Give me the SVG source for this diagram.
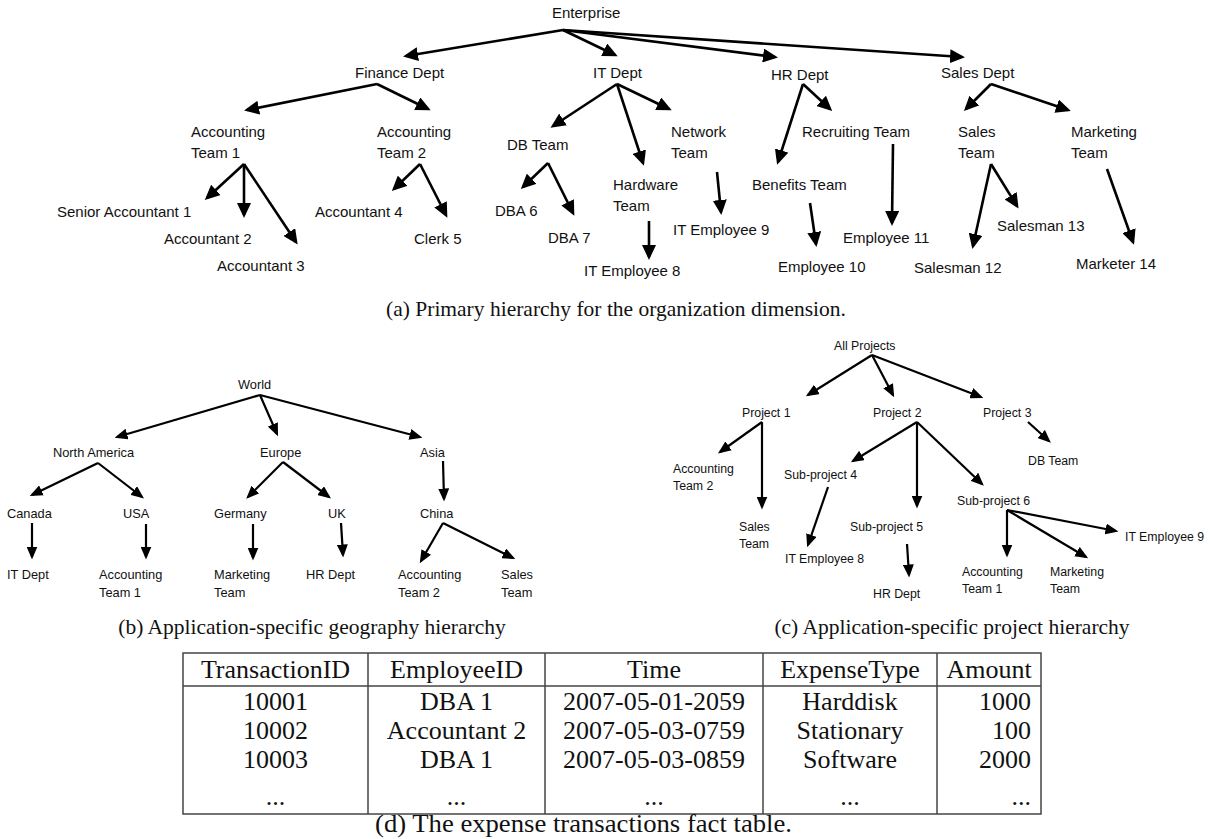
<svg xmlns="http://www.w3.org/2000/svg" width="1210" height="839" viewBox="0 0 1210 839">
<defs>
<style>
.t{font-family:"Liberation Sans",Arial,sans-serif;font-size:15px;fill:#111}
.m{font-family:"Liberation Sans",Arial,sans-serif;font-size:12.8px;fill:#111}
.r{font-family:"Liberation Sans",Arial,sans-serif;font-size:12.3px;fill:#111}
.cap{font-family:"Liberation Serif","Times New Roman",serif;font-size:21.5px;fill:#111;text-anchor:middle}
.tb{font-family:"Liberation Serif","Times New Roman",serif;font-size:26px;fill:#111;text-anchor:middle}
.tbr{font-family:"Liberation Serif","Times New Roman",serif;font-size:26px;fill:#111;text-anchor:end}
.capd{font-family:"Liberation Serif","Times New Roman",serif;font-size:25px;fill:#111}
.a1 line{stroke:#000;stroke-width:2.6;marker-end:url(#h1)}
.a2 line{stroke:#000;stroke-width:2.2;marker-end:url(#h2)}
.grid{stroke:#444;stroke-width:1.5;fill:none}
</style>
<marker id="h1" markerUnits="userSpaceOnUse" markerWidth="15" markerHeight="14" refX="12" refY="7" orient="auto"><path d="M0,0 L15,7 L0,14 z" fill="#000"/></marker>
<marker id="h2" markerUnits="userSpaceOnUse" markerWidth="13" markerHeight="11" refX="10.5" refY="5.5" orient="auto"><path d="M0,0 L13,5.5 L0,11 z" fill="#000"/></marker>
</defs>
<rect width="1210" height="839" fill="#fff"/>

<g id="connectors-a" class="a1">
<line x1="563" y1="30" x2="406" y2="56"/>
<line x1="563" y1="30" x2="615" y2="55"/>
<line x1="563" y1="30" x2="775" y2="57"/>
<line x1="563" y1="30" x2="962" y2="57"/>
<line x1="377" y1="84" x2="247" y2="110"/>
<line x1="377" y1="84" x2="428" y2="109"/>
<line x1="244" y1="164" x2="207" y2="198"/>
<line x1="244" y1="164" x2="244" y2="215"/>
<line x1="244" y1="164" x2="296" y2="242"/>
<line x1="420" y1="164" x2="394" y2="189"/>
<line x1="420" y1="164" x2="446" y2="215"/>
<line x1="617" y1="84" x2="553" y2="126"/>
<line x1="617" y1="84" x2="643" y2="163"/>
<line x1="617" y1="84" x2="669" y2="109"/>
<line x1="548" y1="163" x2="523" y2="187"/>
<line x1="548" y1="163" x2="573" y2="213"/>
<line x1="649" y1="221" x2="649" y2="257"/>
<line x1="717" y1="172" x2="721" y2="212"/>
<line x1="803" y1="84" x2="778" y2="162"/>
<line x1="803" y1="84" x2="830" y2="109"/>
<line x1="810" y1="203" x2="816" y2="244"/>
<line x1="893" y1="144" x2="892" y2="223"/>
<line x1="991" y1="84" x2="966" y2="109"/>
<line x1="991" y1="84" x2="1068" y2="110"/>
<line x1="991" y1="164" x2="973" y2="246"/>
<line x1="991" y1="164" x2="1017" y2="206"/>
<line x1="1107" y1="169" x2="1133" y2="242"/>
</g>

<g id="connectors-b" class="a2">
<line x1="260" y1="395" x2="117" y2="437"/>
<line x1="260" y1="395" x2="277" y2="434"/>
<line x1="260" y1="395" x2="420" y2="437"/>
<line x1="98" y1="463" x2="32" y2="495"/>
<line x1="98" y1="463" x2="142" y2="497"/>
<line x1="283" y1="462" x2="248" y2="497"/>
<line x1="283" y1="462" x2="329" y2="497"/>
<line x1="443" y1="461" x2="444" y2="499"/>
<line x1="32" y1="523" x2="32" y2="557"/>
<line x1="146" y1="524" x2="146" y2="557"/>
<line x1="253" y1="524" x2="253" y2="558"/>
<line x1="341" y1="523" x2="343" y2="555"/>
<line x1="443" y1="523" x2="421" y2="561"/>
<line x1="443" y1="523" x2="513" y2="558"/>
</g>

<g id="connectors-c" class="a2">
<line x1="872" y1="355" x2="808" y2="395"/>
<line x1="872" y1="355" x2="893" y2="395"/>
<line x1="872" y1="355" x2="981" y2="397"/>
<line x1="762" y1="422" x2="720" y2="452"/>
<line x1="762" y1="422" x2="762" y2="507"/>
<line x1="917" y1="422" x2="853" y2="461"/>
<line x1="917" y1="422" x2="917" y2="506"/>
<line x1="917" y1="422" x2="982" y2="484"/>
<line x1="1028" y1="422" x2="1049" y2="441"/>
<line x1="828" y1="487" x2="808" y2="545"/>
<line x1="907" y1="544" x2="909" y2="575"/>
<line x1="1007" y1="510" x2="1007" y2="555"/>
<line x1="1007" y1="510" x2="1086" y2="557"/>
<line x1="1007" y1="510" x2="1116" y2="531"/>
</g>

<!-- (a) organization hierarchy -->
<g id="a-enterprise"><text class="t" x="552" y="18">Enterprise</text></g>
<g id="a-finance"><text class="t" x="355" y="78">Finance Dept</text></g>
<g id="a-it"><text class="t" x="593" y="78">IT Dept</text></g>
<g id="a-hr"><text class="t" x="771" y="80">HR Dept</text></g>
<g id="a-sales"><text class="t" x="941" y="78">Sales Dept</text></g>
<g id="a-acct1"><text class="t" x="191" y="137">Accounting</text><text class="t" x="191" y="158">Team 1</text></g>
<g id="a-acct2"><text class="t" x="377" y="137">Accounting</text><text class="t" x="377" y="158">Team 2</text></g>
<g id="a-db"><text class="t" x="507" y="150">DB Team</text></g>
<g id="a-network"><text class="t" x="671" y="137">Network</text><text class="t" x="671" y="158">Team</text></g>
<g id="a-hardware"><text class="t" x="613" y="190">Hardware</text><text class="t" x="613" y="211">Team</text></g>
<g id="a-recruiting"><text class="t" x="802" y="137">Recruiting Team</text></g>
<g id="a-benefits"><text class="t" x="752" y="190">Benefits Team</text></g>
<g id="a-salesteam"><text class="t" x="958" y="137">Sales</text><text class="t" x="958" y="158">Team</text></g>
<g id="a-marketing"><text class="t" x="1071" y="137">Marketing</text><text class="t" x="1071" y="158">Team</text></g>
<g id="a-sa1"><text class="t" x="57" y="217">Senior Accountant 1</text></g>
<g id="a-acc2"><text class="t" x="164" y="244">Accountant 2</text></g>
<g id="a-acc3"><text class="t" x="217" y="271">Accountant 3</text></g>
<g id="a-acc4"><text class="t" x="315" y="217">Accountant 4</text></g>
<g id="a-clerk5"><text class="t" x="414" y="244">Clerk 5</text></g>
<g id="a-dba6"><text class="t" x="495" y="216">DBA 6</text></g>
<g id="a-dba7"><text class="t" x="548" y="243">DBA 7</text></g>
<g id="a-ite8"><text class="t" x="584" y="276">IT Employee 8</text></g>
<g id="a-ite9"><text class="t" x="673" y="235">IT Employee 9</text></g>
<g id="a-emp10"><text class="t" x="778" y="272">Employee 10</text></g>
<g id="a-emp11"><text class="t" x="843" y="243">Employee 11</text></g>
<g id="a-sm12"><text class="t" x="914" y="273">Salesman 12</text></g>
<g id="a-sm13"><text class="t" x="997" y="231">Salesman 13</text></g>
<g id="a-mk14"><text class="t" x="1076" y="269">Marketer 14</text></g>
<text class="cap" x="616" y="316">(a) Primary hierarchy for the organization dimension.</text>

<!-- (b) geography hierarchy -->
<g id="b-world"><text class="m" x="238" y="389">World</text></g>
<g id="b-na"><text class="m" x="53" y="457">North America</text></g>
<g id="b-europe"><text class="m" x="260" y="457">Europe</text></g>
<g id="b-asia"><text class="m" x="420" y="457">Asia</text></g>
<g id="b-canada"><text class="m" x="7" y="518">Canada</text></g>
<g id="b-usa"><text class="m" x="123" y="518">USA</text></g>
<g id="b-germany"><text class="m" x="214" y="518">Germany</text></g>
<g id="b-uk"><text class="m" x="328" y="518">UK</text></g>
<g id="b-china"><text class="m" x="420" y="518">China</text></g>
<g id="b-itdept"><text class="m" x="7" y="579">IT Dept</text></g>
<g id="b-acct1"><text class="m" x="99" y="579">Accounting</text><text class="m" x="99" y="597">Team 1</text></g>
<g id="b-marketing"><text class="m" x="214" y="579">Marketing</text><text class="m" x="214" y="597">Team</text></g>
<g id="b-hr"><text class="m" x="306" y="579">HR Dept</text></g>
<g id="b-acct2"><text class="m" x="398" y="579">Accounting</text><text class="m" x="398" y="597">Team 2</text></g>
<g id="b-sales"><text class="m" x="501" y="579">Sales</text><text class="m" x="501" y="597">Team</text></g>
<text class="cap" x="312" y="634">(b) Application-specific geography hierarchy</text>

<!-- (c) project hierarchy -->
<g id="c-all"><text class="r" x="834" y="350">All Projects</text></g>
<g id="c-p1"><text class="r" x="742" y="417">Project 1</text></g>
<g id="c-p2"><text class="r" x="873" y="417">Project 2</text></g>
<g id="c-p3"><text class="r" x="983" y="417">Project 3</text></g>
<g id="c-acct2"><text class="r" x="673" y="473">Accounting</text><text class="r" x="673" y="490">Team 2</text></g>
<g id="c-sales"><text class="r" x="739" y="531">Sales</text><text class="r" x="739" y="548">Team</text></g>
<g id="c-db"><text class="r" x="1028" y="465">DB Team</text></g>
<g id="c-sp4"><text class="r" x="784" y="479">Sub-project 4</text></g>
<g id="c-ite8"><text class="r" x="785" y="563">IT Employee 8</text></g>
<g id="c-sp5"><text class="r" x="850" y="531">Sub-project 5</text></g>
<g id="c-hr"><text class="r" x="873" y="598">HR Dept</text></g>
<g id="c-sp6"><text class="r" x="957" y="505">Sub-project 6</text></g>
<g id="c-ite9"><text class="r" x="1125" y="541">IT Employee 9</text></g>
<g id="c-acct1"><text class="r" x="962" y="576">Accounting</text><text class="r" x="962" y="593">Team 1</text></g>
<g id="c-marketing"><text class="r" x="1050" y="576">Marketing</text><text class="r" x="1050" y="593">Team</text></g>
<text class="cap" x="952" y="634">(c) Application-specific project hierarchy</text>

<!-- (d) fact table -->
<g id="d-table">
<rect class="grid" x="183" y="653" width="858" height="161"/>
<line class="grid" x1="183" y1="686" x2="1041" y2="686"/>
<line class="grid" x1="368" y1="653" x2="368" y2="814"/>
<line class="grid" x1="545" y1="653" x2="545" y2="814"/>
<line class="grid" x1="763" y1="653" x2="763" y2="814"/>
<line class="grid" x1="937" y1="653" x2="937" y2="814"/>
<text class="tb" x="275.5" y="678">TransactionID</text>
<text class="tb" x="456.5" y="678">EmployeeID</text>
<text class="tb" x="654" y="678">Time</text>
<text class="tb" x="850" y="678">ExpenseType</text>
<text class="tb" x="989" y="678">Amount</text>
<text class="tb" x="275.5" y="710">10001</text>
<text class="tb" x="456.5" y="710">DBA 1</text>
<text class="tb" x="654" y="710">2007-05-01-2059</text>
<text class="tb" x="850" y="710">Harddisk</text>
<text class="tbr" x="1031" y="710">1000</text>
<text class="tb" x="275.5" y="739">10002</text>
<text class="tb" x="456.5" y="739">Accountant 2</text>
<text class="tb" x="654" y="739">2007-05-03-0759</text>
<text class="tb" x="850" y="739">Stationary</text>
<text class="tbr" x="1031" y="739">100</text>
<text class="tb" x="275.5" y="768">10003</text>
<text class="tb" x="456.5" y="768">DBA 1</text>
<text class="tb" x="654" y="768">2007-05-03-0859</text>
<text class="tb" x="850" y="768">Software</text>
<text class="tbr" x="1031" y="768">2000</text>
<text class="tb" x="275.5" y="805">...</text>
<text class="tb" x="456.5" y="805">...</text>
<text class="tb" x="654" y="805">...</text>
<text class="tb" x="850" y="805">...</text>
<text class="tbr" x="1031" y="805">...</text>
</g>
<text class="capd" x="375" y="832" textLength="417" lengthAdjust="spacingAndGlyphs">(d) The expense transactions fact table.</text>
</svg>
